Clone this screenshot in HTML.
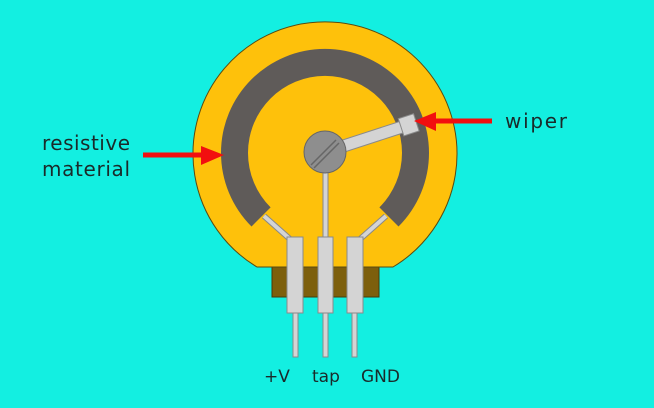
<!DOCTYPE html>
<html><head><style>
html,body{margin:0;padding:0;background:#13efe1;}
svg{display:block}
text{font-family:"DejaVu Sans","Liberation Sans",sans-serif;fill:#1a2a2a}
</style></head><body>
<svg width="654" height="408" viewBox="0 0 654 408" xmlns="http://www.w3.org/2000/svg">
<rect width="654" height="408" fill="#13efe1"/>
<rect x="272" y="266" width="107" height="31" fill="#7d5f0c" stroke="#4a3a08" stroke-width="1"/>
<path d="M257 267 A132 132 0 1 1 393 267 Z" fill="#fec10b" stroke="#5a4a10" stroke-width="1"/>
<path d="M251.5 226.5 A104 104 0 1 1 398.5 226.5 L379.4 207.4 A77 77 0 1 0 270.6 207.4 Z" fill="#5f5b59"/>
<g stroke="#888" stroke-width="6" fill="none">
<polyline points="264,216 291,240"/>
<polyline points="386,216 359,240"/>
<line x1="325.5" y1="165" x2="325.5" y2="240"/>
</g>
<g stroke="#d4d4d4" stroke-width="4" fill="none">
<polyline points="264,216 291,240"/>
<polyline points="386,216 359,240"/>
<line x1="325.5" y1="165" x2="325.5" y2="240"/>
</g>
<g fill="#d4d4d4" stroke="#8a8a8a" stroke-width="1">
<rect x="293" y="312" width="5" height="45"/>
<rect x="323" y="312" width="5" height="45"/>
<rect x="352" y="312" width="5" height="45"/>
<rect x="287" y="237" width="16" height="76"/>
<rect x="318" y="237" width="15" height="76"/>
<rect x="347" y="237" width="16" height="76"/>
</g>
<g transform="translate(325,152) rotate(-18)">
<rect x="0" y="-6" width="82" height="12" fill="#d4d4d4" stroke="#8a8a8a" stroke-width="1"/>
<rect x="80" y="-9" width="16" height="18" fill="#d4d4d4" stroke="#8a8a8a" stroke-width="1"/>
</g>
<circle cx="325" cy="152" r="21" fill="#8e8e8e" stroke="#666" stroke-width="1"/>
<g stroke="#666" stroke-width="1.5"><line x1="311" y1="165" x2="336" y2="140"/><line x1="314" y1="168" x2="339" y2="143"/></g>
<line x1="143" y1="155" x2="205" y2="155" stroke="#f20f0f" stroke-width="5"/>
<polygon points="201,146 224,155 201,165" fill="#f20f0f"/>
<line x1="492" y1="121" x2="432" y2="121" stroke="#f20f0f" stroke-width="5"/>
<polygon points="436,112 414,121 436,131" fill="#f20f0f"/>
<text x="42" y="150" font-size="20" textLength="88">resistive</text>
<text x="42" y="176" font-size="20" textLength="88">material</text>
<text x="505" y="128" font-size="20" textLength="62">wiper</text>
<text x="264" y="382" font-size="17">+V</text>
<text x="312" y="382" font-size="17">tap</text>
<text x="361" y="382" font-size="17">GND</text>
</svg>
</body></html>
